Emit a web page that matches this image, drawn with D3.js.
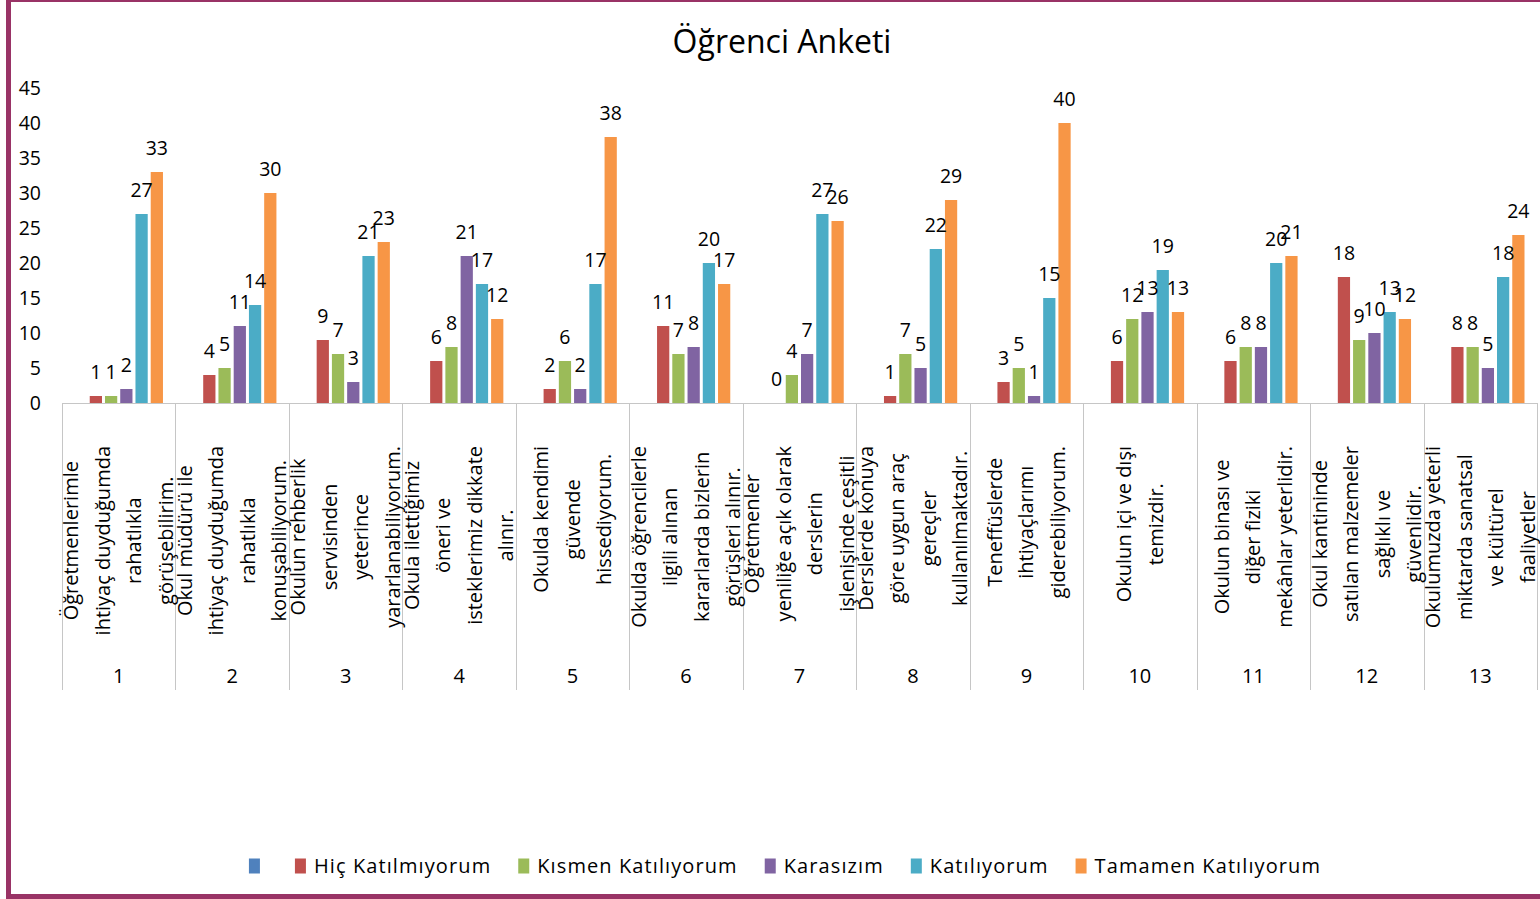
<!DOCTYPE html>
<html lang="tr">
<head>
<meta charset="utf-8">
<title>Öğrenci Anketi</title>
<script src="https://cdn.jsdelivr.net/npm/d3@7"></script>
<style>
  body { margin: 0; background: #fff; }
  svg { display: block; font-family: "Open Sans", sans-serif; }
  .tick-label { font-size: 19.5px; fill: #000; }
  .bar-label { font-size: 19.5px; fill: #000; }
  .cat-line { font-size: 20px; fill: #000; }
  .cat-num { font-size: 20px; fill: #000; }
  .legend text { font-size: 20px; letter-spacing: 1.1px; fill: #000; }
</style>
</head>
<body>
<script>
  var w = 1540;
  var h = 899;

  // survey items
  var categories = ["1", "2", "3", "4", "5", "6", "7", "8", "9", "10", "11", "12", "13"];
  var questionLines = [
    ["Öğretmenlerimle", "ihtiyaç duyduğumda", "rahatlıkla", "görüşebilirim."],
    ["Okul müdürü ile", "ihtiyaç duyduğumda", "rahatlıkla", "konuşabiliyorum."],
    ["Okulun rehberlik", "servisinden", "yeterince", "yararlanabiliyorum."],
    ["Okula ilettiğimiz", "öneri ve", "isteklerimiz dikkate", "alınır."],
    ["Okulda kendimi", "güvende", "hissediyorum."],
    ["Okulda öğrencilerle", "ilgili alınan", "kararlarda bizlerin", "görüşleri alınır."],
    ["Öğretmenler", "yeniliğe açık olarak", "derslerin", "işlenişinde çeşitli"],
    ["Derslerde konuya", "göre uygun araç", "gereçler", "kullanılmaktadır."],
    ["Teneffüslerde", "ihtiyaçlarımı", "giderebiliyorum."],
    ["Okulun içi ve dışı", "temizdir."],
    ["Okulun binası ve", "diğer fiziki", "mekânlar yeterlidir."],
    ["Okul kantininde", "satılan malzemeler", "sağlıklı ve", "güvenlidir."],
    ["Okulumuzda yeterli", "miktarda sanatsal", "ve kültürel", "faaliyetler"]
  ];

  // series values (first series is empty in the source chart)
  var seriesNames = ["", "Hiç Katılmıyorum", "Kısmen Katılıyorum", "Karasızım", "Katılıyorum", "Tamamen Katılıyorum"];
  var seriesColors = ["#4F81BD", "#C0504D", "#9BBB59", "#8064A2", "#4BACC6", "#F79646"];
  var bosSeri = [];
  var hicKatilmiyorum = [1, 4, 9, 6, 2, 11, 0, 1, 3, 6, 6, 18, 8];
  var kismenKatiliyorum = [1, 5, 7, 8, 6, 7, 4, 7, 5, 12, 8, 9, 8];
  var karasizim = [2, 11, 3, 21, 2, 8, 7, 5, 1, 13, 8, 10, 5];
  var katiliyorum = [27, 14, 21, 17, 17, 20, 27, 22, 15, 19, 20, 13, 18];
  var tamamenKatiliyorum = [33, 30, 23, 12, 38, 17, 26, 29, 40, 13, 21, 12, 24];
  var seriesValues = [bosSeri, hicKatilmiyorum, kismenKatiliyorum, karasizim, katiliyorum, tamamenKatiliyorum];

  var yTicks = [0, 5, 10, 15, 20, 25, 30, 35, 40, 45];

  var svg = d3.select("body").append("svg")
    .attr("width", w)
    .attr("height", h);

  // outer frame
  svg.append("rect")
    .attr("x", 8.5).attr("y", -0.5)
    .attr("width", w + 20).attr("height", 897)
    .attr("fill", "#fff")
    .attr("stroke", "#993366")
    .attr("stroke-width", 5);

  // scales
  var x0 = d3.scaleBand().domain(categories).range([62, 1537]);
  var x1 = d3.scaleBand().domain(d3.range(seriesNames.length)).range([11, x0.bandwidth() - 11]);
  var yScale = d3.scaleLinear().domain([0, 45]).range([403, 88]);

  // title
  svg.append("text")
    .attr("x", 782).attr("y", 53)
    .attr("text-anchor", "middle")
    .style("font-size", "32px")
    .text("Öğrenci Anketi");

  // y tick labels (no axis line in the original)
  svg.append("g").selectAll("text")
    .data(yTicks).enter().append("text")
    .attr("class", "tick-label")
    .attr("x", 41)
    .attr("y", function (d) { return yScale(d); })
    .attr("dy", "0.36em")
    .attr("text-anchor", "end")
    .text(function (d) { return d; });

  // category axis line + separators
  var axis = svg.append("g").attr("stroke", "#c6c6c6").attr("stroke-width", 1);
  axis.append("line")
    .attr("x1", 62).attr("x2", 1537)
    .attr("y1", 403.5).attr("y2", 403.5);
  axis.selectAll("line.sep")
    .data(categories.concat(["end"])).enter().append("line")
    .attr("class", "sep")
    .attr("x1", function (d, i) { return Math.round(62 + i * x0.bandwidth()) + 0.5; })
    .attr("x2", function (d, i) { return Math.round(62 + i * x0.bandwidth()) + 0.5; })
    .attr("y1", 403).attr("y2", 690);

  // bars
  var groups = svg.append("g").selectAll("g")
    .data(categories).enter().append("g")
    .attr("transform", function (d) { return "translate(" + x0(d) + ",0)"; });

  groups.each(function (cat, ci) {
    var g = d3.select(this);
    var rows = [];
    seriesValues.forEach(function (vals, si) {
      if (vals[ci] !== undefined) rows.push({ s: si, v: vals[ci] });
    });
    g.selectAll("rect").data(rows).enter().append("rect")
      .attr("x", function (d) { return x1(d.s) + 1.5; })
      .attr("width", x1.bandwidth() - 3)
      .attr("y", function (d) { return yScale(d.v); })
      .attr("height", function (d) { return yScale(0) - yScale(d.v); })
      .attr("fill", function (d) { return seriesColors[d.s]; });
    g.selectAll("text").data(rows).enter().append("text")
      .attr("class", "bar-label")
      .attr("x", function (d) { return x1(d.s) + x1.bandwidth() / 2; })
      .attr("y", function (d) { return yScale(d.v) - 17; })
      .attr("text-anchor", "middle")
      .text(function (d) { return d.v; });
  });

  // category labels: rotated wrapped lines, then the item number
  var lineGap = 31.5;
  var catLabels = svg.append("g");
  categories.forEach(function (cat, ci) {
    var cx = x0(cat) + x0.bandwidth() / 2;
    var lines = questionLines[ci];
    var n = lines.length;
    var texts = lines.map(function (t, li) {
      return catLabels.append("text")
        .attr("class", "cat-line")
        .attr("text-anchor", "middle")
        .attr("dy", "0.35em")
        .text(t);
    });
    var maxLen = d3.max(texts, function (t) { return t.node().getComputedTextLength(); });
    var cy = 446 + maxLen / 2;
    texts.forEach(function (t, li) {
      var lx = cx + (li - (n - 1) / 2) * lineGap;
      t.attr("transform", "translate(" + lx + "," + cy + ") rotate(-90)");
    });
    catLabels.append("text")
      .attr("class", "cat-num")
      .attr("x", cx).attr("y", 676)
      .attr("dy", "0.35em")
      .attr("text-anchor", "middle")
      .text(cat);
  });

  // legend
  var legend = svg.append("g").attr("class", "legend");
  var lx = 0;
  seriesNames.forEach(function (name, i) {
    var it = legend.append("g");
    it.append("rect")
      .attr("x", 0).attr("y", -7.5)
      .attr("width", 11).attr("height", 15)
      .attr("fill", seriesColors[i]);
    var t = it.append("text")
      .attr("x", 19).attr("dy", "0.35em")
      .text(name);
    var tw = name ? t.node().getComputedTextLength() : 0;
    it.attr("transform", "translate(" + lx + ",0)");
    lx += 19 + tw + 27;
  });
  var legendWidth = lx - 27;
  legend.attr("transform", "translate(" + (785 - legendWidth / 2) + ",866)");
</script>
</body>
</html>
